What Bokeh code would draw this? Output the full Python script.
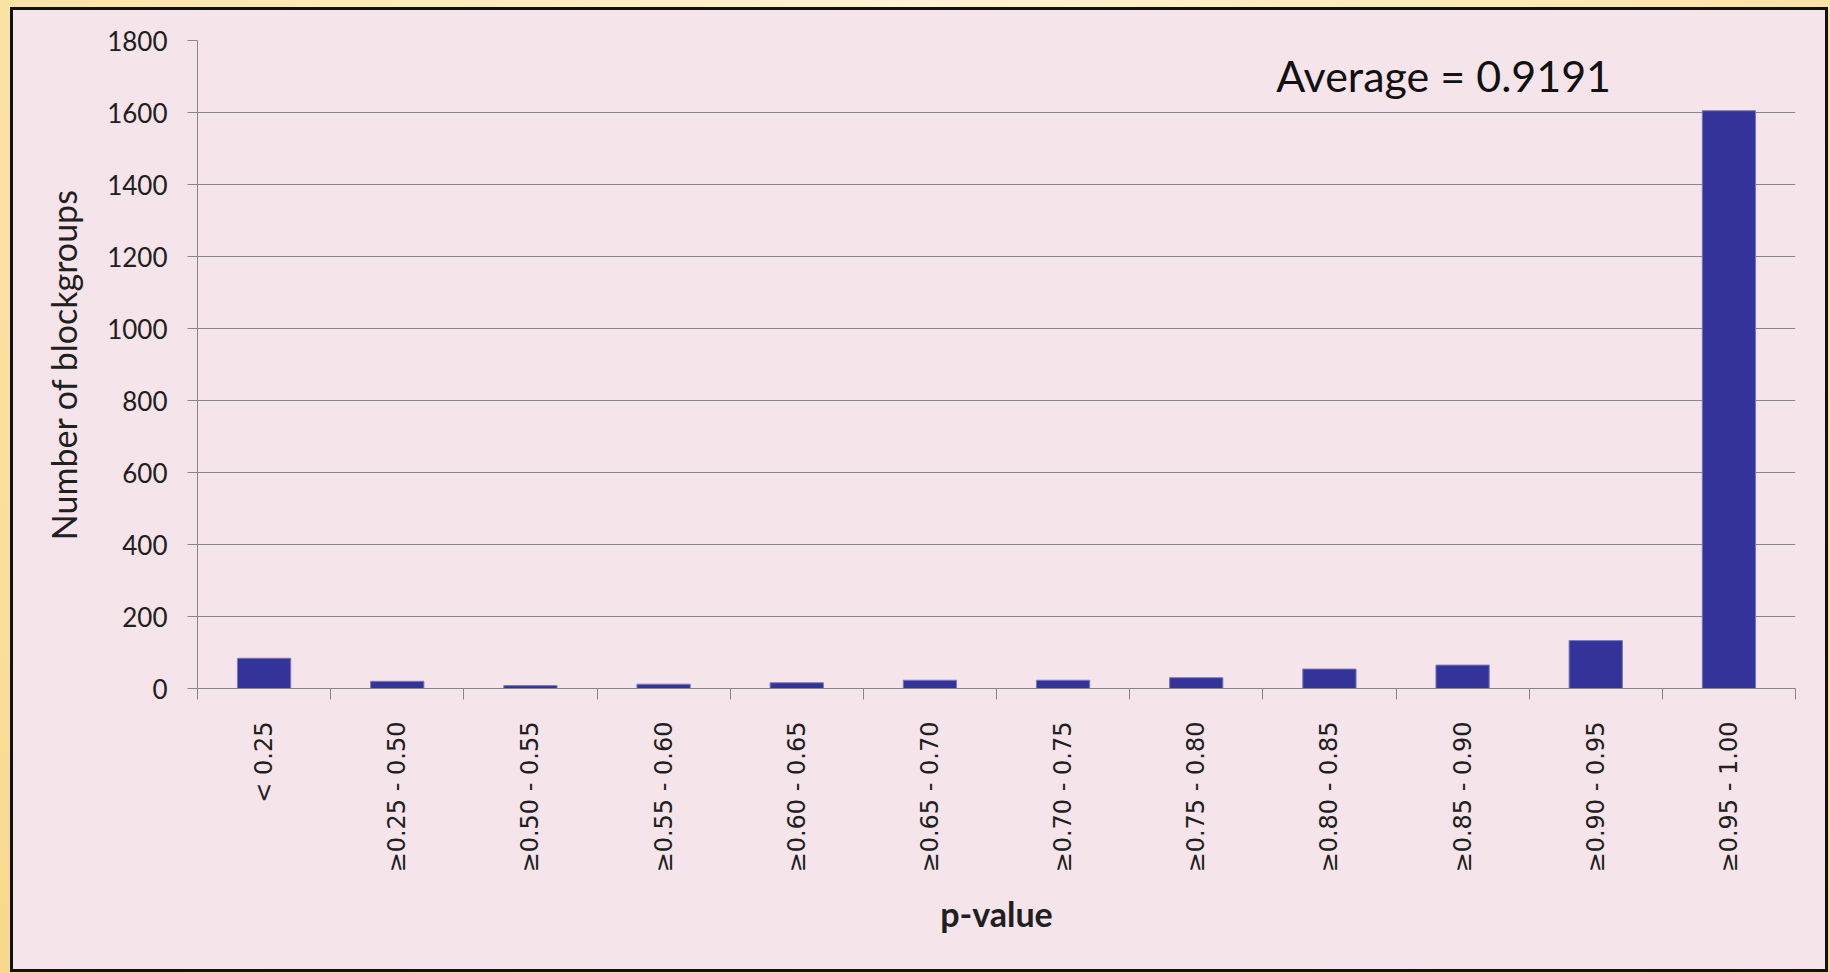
import math

from bokeh.plotting import figure
from bokeh.models import Range1d, FixedTicker, Label
from bokeh.layouts import column
from bokeh.embed import file_html
from bokeh.resources import INLINE

# p-value bins and number of blockgroups in each
categories = [
    "< 0.25", "≥0.25 - 0.50", "≥0.50 - 0.55", "≥0.55 - 0.60",
    "≥0.60 - 0.65", "≥0.65 - 0.70", "≥0.70 - 0.75", "≥0.75 - 0.80",
    "≥0.80 - 0.85", "≥0.85 - 0.90", "≥0.90 - 0.95", "≥0.95 - 1.00",
]
counts = [84, 20, 8, 12, 16, 23, 23, 30, 54, 65, 133, 1605]
y_ticks = [0, 200, 400, 600, 800, 1000, 1200, 1400, 1600, 1800]
average = 0.9191

PINK = "#F5E4EA"
GRAY = "#878787"
BAR = "#333399"
INK = "#202020"

positions = list(range(len(categories)))
boundaries = [i - 0.5 for i in range(len(categories) + 1)]

p = figure(
    width=1812, height=959,
    x_range=Range1d(boundaries[0], boundaries[-1]),
    y_range=Range1d(y_ticks[0], y_ticks[-1]),
    output_backend="svg", toolbar_location=None,
    min_border_left=184, min_border_right=30,
    min_border_top=30, min_border_bottom=281,
    background_fill_color=PINK, border_fill_color=PINK,
    outline_line_color=None,
)

p.vbar(x=positions, top=counts, width=0.4, bottom=0,
       fill_color=BAR, line_color="#7a7abf", line_width=1)

# x axis: labels at bin centres, tick marks on bin boundaries
xa = p.xaxis[0]
xa.ticker = FixedTicker(ticks=positions, minor_ticks=boundaries)
xa.major_label_overrides = {i: c for i, c in zip(positions, categories)}
xa.major_label_orientation = math.pi / 2
xa.major_tick_in = 0
xa.major_tick_out = 0
xa.major_tick_line_color = None
xa.minor_tick_in = 0
xa.minor_tick_out = 11
xa.minor_tick_line_color = GRAY
xa.axis_line_color = GRAY
xa.major_label_standoff = 22
xa.major_label_text_font = "DejaVu Sans"
xa.major_label_text_font_size = "24px"
xa.major_label_text_color = INK
xa.axis_label = "p-value"
xa.axis_label_text_font = "Lato"
xa.axis_label_text_font_size = "34px"
xa.axis_label_text_font_style = "bold"
xa.axis_label_text_color = INK
xa.axis_label_standoff = 18

ya = p.yaxis[0]
ya.ticker = FixedTicker(ticks=y_ticks)
ya.major_tick_in = 0
ya.major_tick_out = 10
ya.major_tick_line_color = GRAY
ya.minor_tick_line_color = None
ya.axis_line_color = GRAY
ya.major_label_standoff = 20
ya.major_label_text_font = "Lato"
ya.major_label_text_font_size = "26px"
ya.major_label_text_color = INK
ya.axis_label = "Number of blockgroups"
ya.axis_label_text_font = "Lato"
ya.axis_label_text_font_size = "34px"
ya.axis_label_text_font_style = "normal"
ya.axis_label_text_color = INK
ya.axis_label_standoff = 20

p.xgrid.visible = False
p.ygrid.grid_line_color = GRAY
p.ygrid.grid_line_width = 1

p.add_layout(Label(
    x=7.6, y=1703, text=f"Average = {average}",
    text_font="Lato", text_font_size="43px", text_color="#111111",
    text_baseline="alphabetic", text_align="left",
))

panel = column(p, styles={"border": "3px solid #111111", "background-color": PINK})
page = column(
    panel, width=1830, height=973,
    styles={
        "background": "radial-gradient(ellipse at 50% 0%, #fef3d2 0%, #fce7b0 55%, #f8d98c 100%)",
        "padding-left": "10px", "padding-top": "7px",
    },
)

open("out.html", "w").write(file_html(page, INLINE))
